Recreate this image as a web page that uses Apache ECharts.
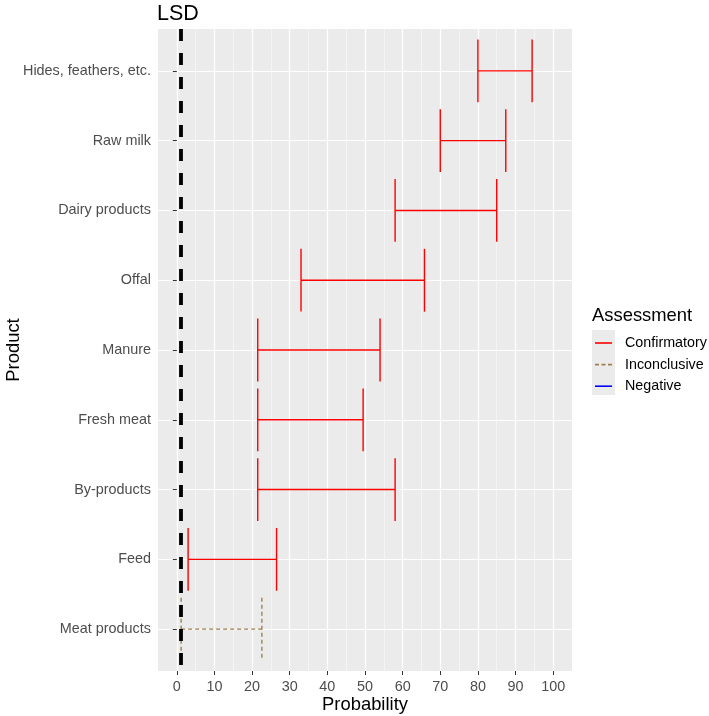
<!DOCTYPE html>
<html><head><meta charset="utf-8">
<script src="https://cdn.jsdelivr.net/npm/echarts@6/dist/echarts.min.js"></script>
<style>html,body{margin:0;padding:0;background:#fff}#c{width:709px;height:716px}</style>
</head><body><div id="c"></div>
<script>
var categories = ['Hides, feathers, etc.','Raw milk','Dairy products','Offal','Manure','Fresh meat','By-products','Feed','Meat products'];
var lower = [80, 70, 58, 33, 21.5, 21.5, 21.5, 3, 1.15];
var upper = [94.4, 87.4, 85, 65.8, 54, 49.5, 58, 26.5, 22.6];
var assessment = ['Confirmatory','Confirmatory','Confirmatory','Confirmatory','Confirmatory','Confirmatory','Confirmatory','Confirmatory','Inconclusive'];
var assessmentLevels = ['Confirmatory','Inconclusive','Negative'];
var lsdValue = 1.15;
var xTicks = [0,10,20,30,40,50,60,70,80,90,100];
var xMinorTicks = [5,15,25,35,45,55,65,75,85,95];
var yTicks = [1,2,3,4,5,6,7,8,9];

var colors = {Confirmatory:'#FF0000', Inconclusive:'#A08050', Negative:'#0000FF'};
var lineTypes = {Confirmatory:'solid', Inconclusive:[4,3], Negative:'solid'};
var legendIcons = {
  Confirmatory:'path://M0,0h17v1.6h-17z',
  Inconclusive:'path://M0,0h4v1.6h-4z M6.5,0h4v1.6h-4z M13,0h4v1.6h-4z',
  Negative:'path://M0,0h17v1.6h-17z'
};
var FONT = 'Liberation Sans, Arial, sans-serif';

var chart = echarts.init(document.getElementById('c'), null, {renderer:'canvas'});

var series = [];
assessmentLevels.forEach(function(level){
  var d = [];
  categories.forEach(function(c,i){
    if (assessment[i] === level) d.push([i+1, lower[i], upper[i]]);
  });
  series.push({
    type:'custom', name: level + '_bars', xAxisIndex:0, yAxisIndex:0,
    data: d, z: 3,
    renderItem: function(params, api){
      var y = api.value(0), lo = api.value(1), hi = api.value(2);
      var a = api.coord([lo, y]), b = api.coord([hi, y]);
      var lt = api.coord([lo, y-0.45]), lb = api.coord([lo, y+0.45]);
      var rt = api.coord([hi, y-0.45]), rb = api.coord([hi, y+0.45]);
      var st = {stroke: colors[level], lineWidth: 1.4, lineDash: lineTypes[level]==='solid'? null : lineTypes[level]};
      return {type:'group', children:[
        {type:'line', shape:{x1:a[0],y1:a[1],x2:b[0],y2:b[1]}, style:st},
        {type:'line', shape:{x1:lt[0],y1:lt[1],x2:lb[0],y2:lb[1]}, style:st},
        {type:'line', shape:{x1:rt[0],y1:rt[1],x2:rb[0],y2:rb[1]}, style:st}
      ]};
    }
  });
  series.push({
    type:'line', name: level, data: [], symbol:'none',
    lineStyle:{color: colors[level], width: 1.4, type: lineTypes[level]},
    itemStyle:{color: colors[level]}
  });
});
series.push({
  type:'line', name:'lsd', data:[], symbol:'none', z: 5,
  markLine:{
    silent:true, symbol:['none','none'], label:{show:false},
    lineStyle:{color:'#000', width:3.8, type:[12,12]},
    data:[{xAxis: lsdValue}]
  }
});

var option = {
  animation:false,
  backgroundColor:'#ffffff',
  title:{text:'LSD', left:157, top:3, padding:0, textStyle:{fontFamily:FONT, fontSize:21.5, fontWeight:'normal', color:'#000'}},
  grid:{left:158, top:29, width:414, height:642, containLabel:false, outerBoundsMode:'none', show:true, backgroundColor:'#EBEBEB', borderWidth:0},
  graphic:[
    {type:'text', left:592, top:307, style:{text:'Assessment', font:'18.4px ' + FONT, fill:'#000'}},
    {type:'rect', shape:{x:592, y:330, width:23, height:65}, style:{fill:'#EBEBEB'}, z:-1}
  ],
  legend:{
    orient:'vertical', left:595, top:336, padding:0, itemWidth:17, itemHeight:21.6, itemGap:7.6,
    data: assessmentLevels.map(function(l){ return {name:l, icon: legendIcons[l], itemStyle:{color: colors[l]}}; }),
    textStyle:{fontFamily:FONT, fontSize:14.3, color:'#000', padding:[0,0,0,8]},
    selectedMode:false
  },
  xAxis:[{
    type:'value', min:-5, max:105,
    name:'Probability', nameLocation:'middle', nameGap:25, nameMoveOverlap:false,
    nameTextStyle:{fontFamily:FONT, fontSize:18.4, color:'#000', verticalAlign:'top'},
    axisLine:{show:false},
    axisTick:{show:true, length:4, lineStyle:{color:'#333', width:1}, customValues:xTicks},
    axisLabel:{customValues:xTicks, margin:9, fontFamily:FONT, fontSize:14.4, color:'#4D4D4D'},
    splitLine:{show:true, lineStyle:{color:'#FFFFFF', width:1.2}}
  },{
    type:'value', min:-5, max:105, position:'bottom',
    axisLine:{show:false}, axisLabel:{show:false},
    axisTick:{show:false, customValues:xMinorTicks},
    splitLine:{show:true, lineStyle:{color:'#FFFFFF', width:0.5}}
  }],
  yAxis:{
    type:'value', min:0.4, max:9.6, inverse:true,
    name:'Product', nameLocation:'middle', nameGap:135, nameMoveOverlap:false,
    nameTextStyle:{fontFamily:FONT, fontSize:18.4, color:'#000'},
    axisLine:{show:false},
    axisTick:{show:true, length:4, lineStyle:{color:'#333', width:1}, customValues:yTicks},
    axisLabel:{customValues:yTicks, margin:7, fontFamily:FONT, fontSize:14.4, color:'#4D4D4D',
      formatter:function(v){ return categories[Math.round(v)-1] || ''; }},
    splitLine:{show:true, lineStyle:{color:'#FFFFFF', width:1.2}}
  },
  series: series
};
chart.setOption(option);
</script>
</body></html>
